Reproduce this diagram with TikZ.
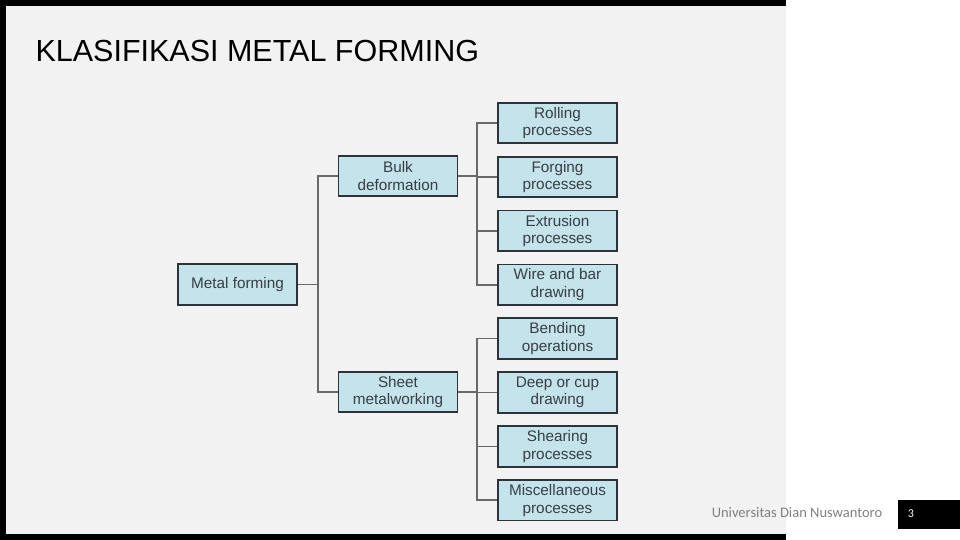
\documentclass[tikz,border=0pt]{standalone}
\usepackage{fontspec}
\setmainfont{Liberation Sans}
\newfontfamily\footfont{Carlito}
\usepackage{xcolor}
\usetikzlibrary{positioning}
\definecolor{boxfill}{RGB}{197,227,234}
\definecolor{boxline}{RGB}{45,52,56}
\definecolor{boxtext}{RGB}{55,62,70}
\definecolor{linkgray}{RGB}{105,105,105}
\definecolor{slidebg}{RGB}{242,242,242}
\tikzset{
  procbox/.style={draw=boxline,line width=1.8pt,fill=boxfill,minimum width=119pt,minimum height=40.5pt,
    inner sep=0pt,align=center,text=boxtext,font=\fontsize{15.3}{17.5}\selectfont},
  link/.style={draw=linkgray,line width=1.7pt}
}

\begin{document}
\begin{tikzpicture}[x=1pt,y=-1pt]
        \useasboundingbox (0,0) rectangle (960,540);
        \fill[black] (0,0) rectangle (786,540);
        \fill[slidebg] (6,6) rectangle (786,534);
        \node[anchor=base west,font=\fontsize{30.5}{30.5}\selectfont] (title) at (32,62) {KLASIFIKASI METAL FORMING};
        \node[procbox] (mf) at (237.5,284.5) {Metal forming};
        \node[procbox] (bulk) at (398,176) {Bulk\\deformation};
        \node[procbox] (sheet) at (398,392) {Sheet\\metalworking};
        \foreach \i/\t in {1/{Rolling\\processes},2/{Forging\\processes},3/{Extrusion\\processes},4/{Wire and bar\\drawing},
            5/{Bending\\operations},6/{Deep or cup\\drawing},7/{Shearing\\processes},8/{Miscellaneous\\processes}}
            {\node[procbox] (l\i) at (557.5,{123+53.9*(\i-1)}) {\t};}
        \coordinate (j1) at (318,284.5);
        \coordinate (j2) at (477,176);
        \coordinate (j3) at (477,392);
        \draw[link] (mf.east) -- (j1);
        \draw[link] (bulk.west) -| (j1) |- (sheet.west);
        \draw[link] (bulk.east) -- (j2);
        \draw[link] (sheet.east) -- (j3);
        \foreach \i in {1,...,4}{\draw[link] (l\i.west) -| (j2);}
        \foreach \i in {5,...,8}{\draw[link] (l\i.west) -| (j3);}
        \node[font=\footfont\fontsize{14.5}{14.5}\selectfont,text=gray] (univ) at (797,513) {Universitas Dian Nuswantoro};
        \fill[black] (898,500) rectangle (960,529);
        \node[font=\footfont\fontsize{12}{12}\selectfont,text=white] (page) at (911,514) {3};
    \end{tikzpicture}
\end{document}
